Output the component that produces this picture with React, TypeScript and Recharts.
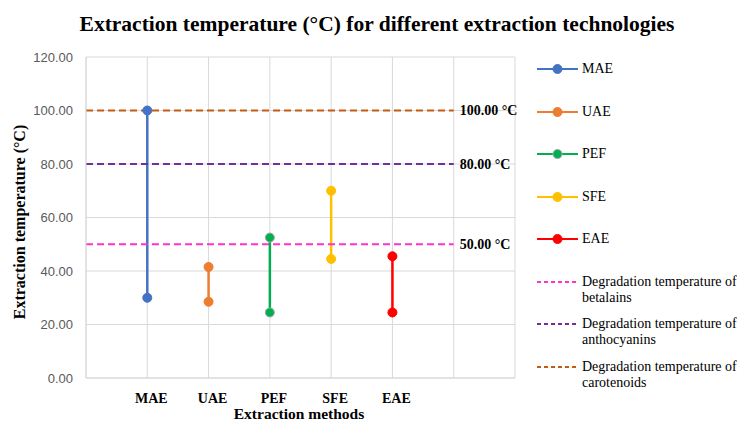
import React from 'react';
import { LineChart, Line, XAxis, YAxis, CartesianGrid } from 'recharts';

const categories = ['MAE', 'UAE', 'PEF', 'SFE', 'EAE'];
const lowValues = [30, 28.5, 24.5, 44.5, 24.5];
const highValues = [100, 41.5, 52.5, 70, 45.5];
const methodColors = ['#4472C4', '#ED7D31', '#00B050', '#FFC000', '#FF0000'];
const methodDotStrokes = ['#4472C4', '#ED7D31', '#A5A5A5', '#FFC000', '#FF0000'];

const thresholdNames = [
  'Degradation temperature of betalains',
  'Degradation temperature of anthocyanins',
  'Degradation temperature of carotenoids',
];
const thresholdValues = [50, 80, 100];
const thresholdColors = ['#FF33CC', '#7030A0', '#C55A11'];
const thresholdSpan = [0, 6];

const xTicks = [0, 1, 2, 3, 4, 5, 6, 7];
const yTicks = [0, 20, 40, 60, 80, 100, 120];

const SERIF = '"Liberation Serif", "Times New Roman", serif';
const SANS = '"Liberation Sans", Arial, sans-serif';

const methodSeries = categories.map((name, i) => ({
  name,
  color: methodColors[i],
  dotStroke: methodDotStrokes[i],
  data: [
    { x: i + 1, y: lowValues[i] },
    { x: i + 1, y: highValues[i] },
  ],
}));

const thresholdSeries = thresholdNames.map((name, i) => ({
  name,
  color: thresholdColors[i],
  data: thresholdSpan.map((x) => ({ x, y: thresholdValues[i] })),
}));

const XTick = (props: any) => {
  const { x, y, payload } = props;
  const label = categories[payload.value - 1];
  if (!label) return <g />;
  return (
    <text x={x + 4} y={y} dy="0.71em" textAnchor="middle" fontFamily={SERIF} fontWeight="bold" fontSize={14} fill="#000">
      {label}
    </text>
  );
};

const makeEndLabel = (dataLen: number) => (props: any) => {
  const { x, y, index, value } = props;
  if (index !== dataLen - 1) return <g />;
  return (
    <text x={x + 6} y={y} dy="0.35em" textAnchor="start" fontFamily={SERIF} fontWeight="bold" fontSize={14} fill="#000">
      {`${Number(value).toFixed(2)} °C`}
    </text>
  );
};

const legendItems = [
  ...methodSeries.map((s) => ({ name: s.name, color: s.color, dot: true, dotStroke: s.dotStroke })),
  ...thresholdSeries.map((s) => ({ name: s.name, color: s.color, dot: false, dotStroke: s.color })),
];

const Legend = () => (
  <div style={{ position: 'absolute', left: 537, top: 61, width: 200 }}>
    {legendItems.map((it) => (
      <div key={it.name} style={{ height: 42.5, display: 'flex', alignItems: 'flex-start' }}>
        <svg width={42} height={16} style={{ flex: '0 0 auto' }}>
          <line x1={0} x2={41} y1={8} y2={8} stroke={it.color} strokeWidth={2} strokeDasharray={it.dot ? undefined : '4 3'} />
          {it.dot && <circle cx={20.5} cy={8} r={4.5} fill={it.color} stroke={it.dotStroke} strokeWidth={1} />}
        </svg>
        <div style={{ marginLeft: 3, fontFamily: SERIF, fontSize: 14, lineHeight: '16px', color: '#000', width: 160 }}>
          {it.name}
        </div>
      </div>
    ))}
  </div>
);

export default function App() {
  return (
    <div style={{ position: 'absolute', left: 0, top: 0, width: 737, height: 421, background: '#fff', overflow: 'hidden' }}>
      <div
        style={{
          position: 'absolute', left: 0, top: 11, width: 754, textAlign: 'center',
          fontFamily: SERIF, fontWeight: 'bold', fontSize: 21.5, lineHeight: '26px', color: '#000', whiteSpace: 'nowrap',
        }}
      >
        Extraction temperature (°C) for different extraction technologies
      </div>
      <LineChart width={737} height={421} margin={{ top: 57, right: 222, bottom: 13, left: 0 }}>
        <CartesianGrid stroke="#D9D9D9" strokeWidth={1} />
        <XAxis
          type="number"
          dataKey="x"
          domain={[0, 7]}
          ticks={xTicks}
          interval={0}
          height={30}
          tickSize={0}
          tickMargin={15}
          axisLine={{ stroke: '#D9D9D9' }}
          tickLine={false}
          tick={<XTick />}
        />
        <YAxis
          type="number"
          domain={[0, 120]}
          ticks={yTicks}
          interval={0}
          width={86}
          tickSize={0}
          tickMargin={13}
          axisLine={{ stroke: '#D9D9D9' }}
          tickLine={false}
          tickFormatter={(v: number) => v.toFixed(2)}
          tick={{ fontFamily: SANS, fontSize: 13, fill: '#595959' }}
        />
        {methodSeries.map((s) => (
          <Line
            key={s.name}
            name={s.name}
            data={s.data}
            dataKey="y"
            stroke={s.color}
            strokeWidth={2.5}
            dot={{ r: 4.5, fill: s.color, stroke: s.dotStroke, strokeWidth: 1 }}
            activeDot={false}
            isAnimationActive={false}
          />
        ))}
        {thresholdSeries.map((s) => (
          <Line
            key={s.name}
            name={s.name}
            data={s.data}
            dataKey="y"
            stroke={s.color}
            strokeWidth={2}
            strokeDasharray="7 4"
            dot={false}
            activeDot={false}
            label={makeEndLabel(s.data.length)}
            isAnimationActive={false}
          />
        ))}
      </LineChart>
      <div
        style={{
          position: 'absolute', left: 299, top: 222, transform: 'translate(-50%, -50%)',
          display: 'none',
        }}
      />
      <div
        style={{
          position: 'absolute', left: 20, top: 222, transform: 'translate(-50%, -50%) rotate(-90deg)',
          fontFamily: SERIF, fontWeight: 'bold', fontSize: 16, color: '#000', whiteSpace: 'nowrap',
        }}
      >
        Extraction temperature (°C)
      </div>
      <div
        style={{
          position: 'absolute', left: 299, top: 414, transform: 'translate(-50%, -50%)',
          fontFamily: SERIF, fontWeight: 'bold', fontSize: 15.5, color: '#000', whiteSpace: 'nowrap',
        }}
      >
        Extraction methods
      </div>
      <Legend />
    </div>
  );
}
